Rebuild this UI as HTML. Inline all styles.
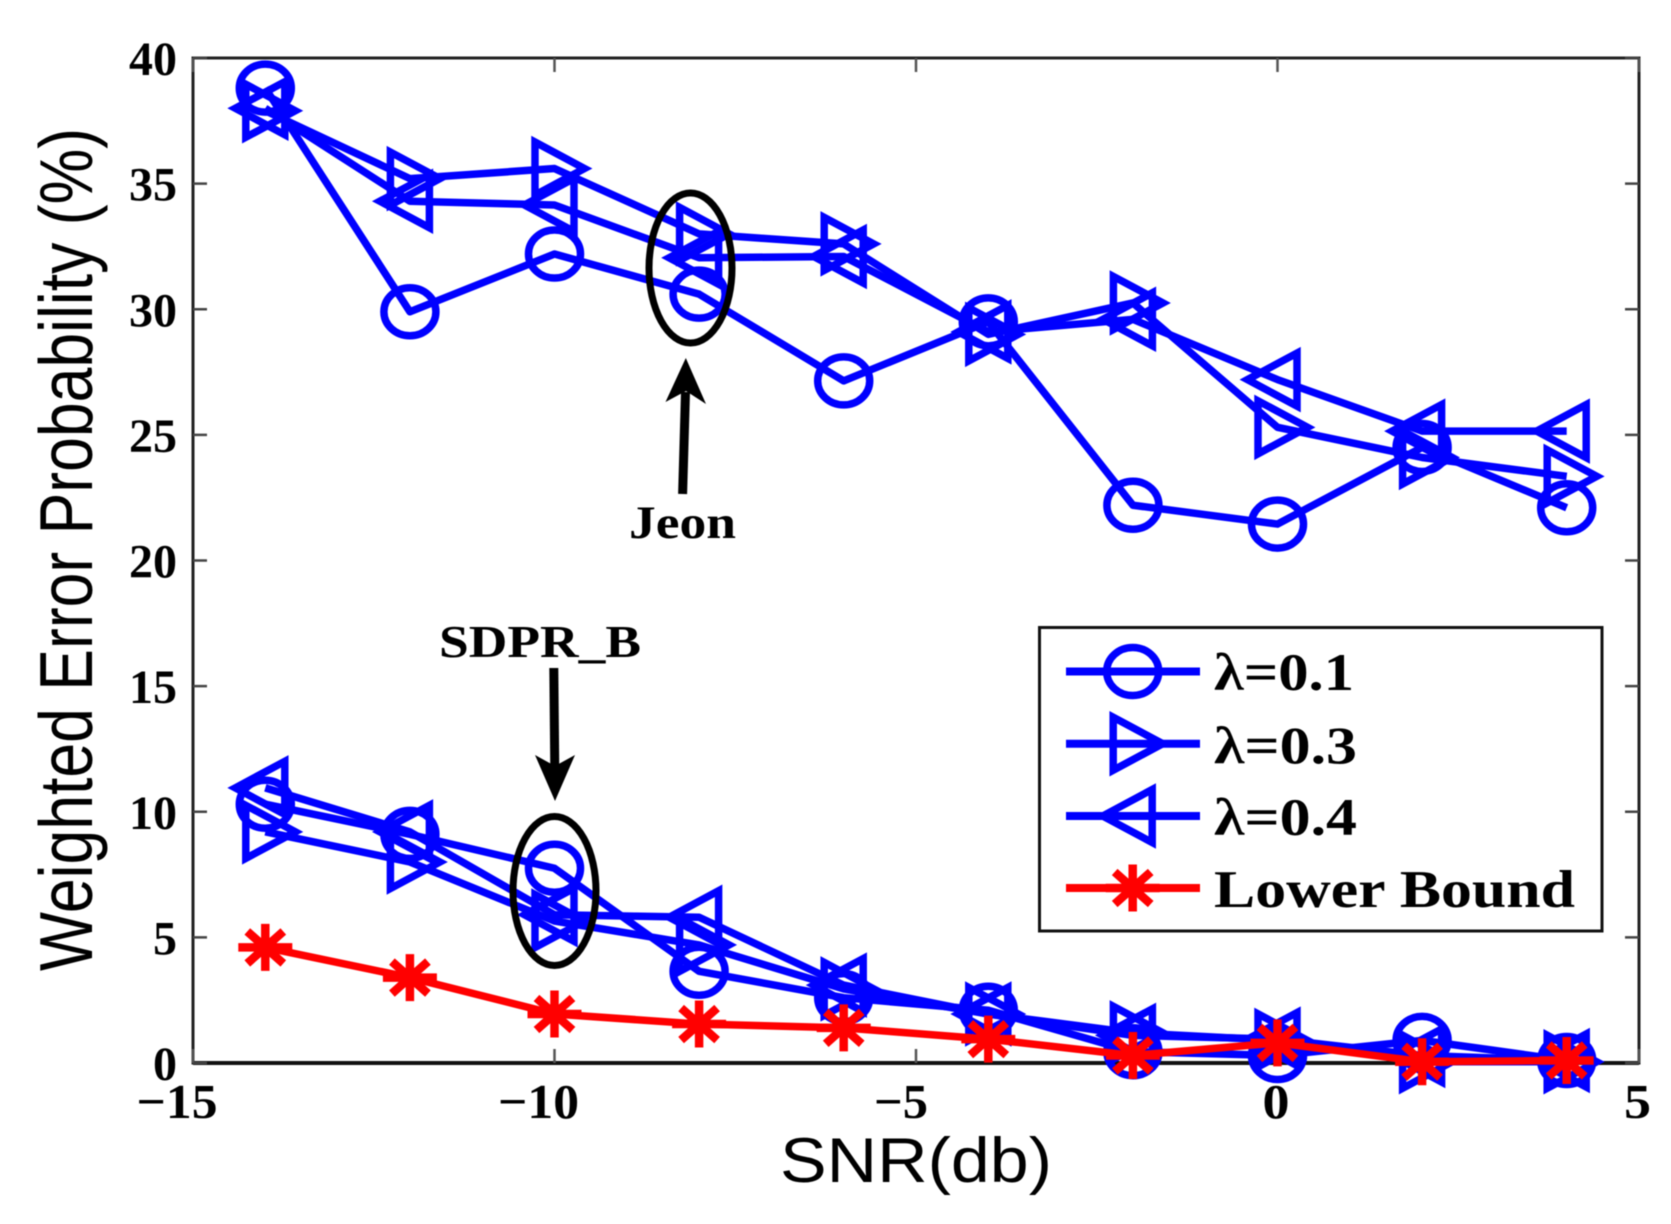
<!DOCTYPE html>
<html lang="en">
<head>
<meta charset="utf-8">
<title>Weighted Error Probability vs SNR</title>
<style>
html,body{margin:0;padding:0;background:#fff;}
svg{display:block;filter:blur(0.6px);}
text{fill:#000;}
.serif{font-family:"Liberation Serif",serif;font-weight:bold;}
.sans{font-family:"Liberation Sans",sans-serif;}
</style>
</head>
<body>
<svg id="chart" xmlns="http://www.w3.org/2000/svg" width="1671" height="1224" viewBox="0 0 1671 1224">
  <rect x="0" y="0" width="1671" height="1224" fill="#fff"/>
  <g id="axes-layer"></g>
  <g id="series-layer"></g>

  <g>
    <ellipse cx="690.5" cy="268" rx="41.5" ry="75" fill="none" stroke="#000" stroke-width="7"/>
    <line x1="682.6" y1="494" x2="685.5" y2="392" stroke="#000" stroke-width="9"/>
    <polygon points="685.8,358 706,404 686,391 665.5,402" fill="#000"/>
    <text class="serif" x="629" y="538" font-size="47" textLength="107" lengthAdjust="spacingAndGlyphs">Jeon</text>
  </g>
  <g>
    <ellipse cx="554.5" cy="891" rx="41.5" ry="74.5" fill="none" stroke="#000" stroke-width="7"/>
    <line x1="553.8" y1="668" x2="554.8" y2="770" stroke="#000" stroke-width="9"/>
    <polygon points="555,801 575,755 555,766 535,755" fill="#000"/>
    <text class="serif" x="439" y="657" font-size="46" textLength="202" lengthAdjust="spacingAndGlyphs">SDPR_B</text>
  </g>

  <text class="sans" x="780" y="1182" font-size="63" textLength="272" lengthAdjust="spacingAndGlyphs">SNR(db)</text>
  <text class="sans" transform="translate(92,971) rotate(-90) scale(1,1.2)" x="0" y="0" font-size="63" textLength="843" lengthAdjust="spacingAndGlyphs">Weighted Error Probability (%)</text>

  <g id="legend-layer">
    <rect x="1039.5" y="627.5" width="562.5" height="303.5" fill="#fff" stroke="#111" stroke-width="3"/>
  </g>
</svg>

<script>
// ---- Data ----
const snrValues = [-14, -12, -10, -8, -6, -4, -2, 0, 2, 4];
const jeonLambda01 = [38.8, 29.9, 32.2, 30.6, 27.15, 29.5, 22.2, 21.45, 24.5, 22.1];
const jeonLambda03 = [37.9, 35.2, 35.6, 33.0, 32.6, 29.0, 30.25, 25.3, 24.1, 23.35];
const jeonLambda04 = [38.0, 34.3, 34.15, 32.05, 32.1, 29.1, 29.6, 27.2, 25.15, 25.15];
const sdprLambda01 = [10.3, 9.1, 7.75, 3.65, 2.6, 2.1, 0.45, 0.3, 0.9, 0.1];
const sdprLambda03 = [9.2, 8.0, 5.65, 4.7, 2.95, 1.95, 1.2, 0.9, 0.05, 0.05];
const sdprLambda04 = [10.95, 9.2, 5.9, 5.8, 3.1, 1.95, 1.1, 0.95, 0.3, 0.1];
const lowerBound = [4.6, 3.4, 1.95, 1.55, 1.4, 0.95, 0.3, 0.8, 0.05, 0.1];
const xTicks = [-15, -10, -5, 0, 5];
const yTicks = [0, 5, 10, 15, 20, 25, 30, 35, 40];
const xTickLabels = ['\u221215', '\u221210', '\u22125', '0', '5'];
const yTickLabels = ['0', '5', '10', '15', '20', '25', '30', '35', '40'];
const legendLabels = ['\u03bb=0.1', '\u03bb=0.3', '\u03bb=0.4', 'Lower Bound'];

// ---- Axis functions ----
const plotLeft = 193, plotRight = 1639, plotTop = 58, plotBottom = 1063;
function xScale(v) { return plotLeft + (v - (-15)) / 20 * (plotRight - plotLeft); }
function yScale(v) { return plotBottom - v / 40 * (plotBottom - plotTop); }

const SVGNS = 'http://www.w3.org/2000/svg';
function make(tag, attrs, parent) {
  const n = document.createElementNS(SVGNS, tag);
  for (const k in attrs) n.setAttribute(k, attrs[k]);
  parent.appendChild(n);
  return n;
}

// ---- Axes ----
const axesLayer = document.getElementById('axes-layer');
const frame = make('rect', {x: plotLeft, y: plotTop, width: plotRight - plotLeft, height: plotBottom - plotTop, fill: 'none', stroke: '#222', 'stroke-width': 3}, axesLayer);


const baseline = make('line', {x1: plotLeft, x2: plotRight, y1: plotBottom, y2: plotBottom, stroke: '#111', 'stroke-width': 4}, axesLayer);



xTicks.forEach(function (t, i) {
  const x = xScale(t);
  const bottomTick = make('line', {x1: x, x2: x, y1: plotBottom, y2: plotBottom - 14, stroke: '#555', 'stroke-width': 2.5}, axesLayer);
  
  
  const topTick = make('line', {x1: x, x2: x, y1: plotTop, y2: plotTop + 14, stroke: '#555', 'stroke-width': 2.5}, axesLayer);
  
  
  const text = xTickLabels[i];
  const width = text.length * 27;
  const endX = x + (Math.abs(t) >= 10 ? 24.5 : 12);
  const label = make('text', {x: endX - width, y: 1118, 'font-size': 49, class: 'serif', textLength: width, lengthAdjust: 'spacingAndGlyphs'}, axesLayer);
  label.textContent = text;
  
  
});

yTicks.forEach(function (t, i) {
  const y = yScale(t);
  const leftTick = make('line', {x1: plotLeft, x2: plotLeft + 14, y1: y, y2: y, stroke: '#444', 'stroke-width': 2.5}, axesLayer);
  
  
  const rightTick = make('line', {x1: plotRight, x2: plotRight - 14, y1: y, y2: y, stroke: '#444', 'stroke-width': 2.5}, axesLayer);
  
  
  const label = make('text', {x: 177, y: y + 17, 'font-size': 48, 'text-anchor': 'end', class: 'serif'}, axesLayer);
  label.textContent = yTickLabels[i];
  
  
});

// ---- Markers ----
function drawMarker(kind, x, y, color, parent) {
  const common = {fill: 'none', stroke: color, 'stroke-width': 7.5, 'stroke-linejoin': 'miter', 'stroke-miterlimit': 10};
  let shape;
  if (kind === 'circle') {
    shape = make('ellipse', Object.assign({cx: x, cy: y, rx: 26, ry: 24}, common), parent);
  } else if (kind === 'right') {
    const pts = [(x + 30) + ',' + y, (x - 19.5) + ',' + (y - 26.5), (x - 19.5) + ',' + (y + 26.5)].join(' ');
    shape = make('polygon', Object.assign({points: pts}, common), parent);
  } else if (kind === 'left') {
    const pts = [(x - 30) + ',' + y, (x + 19.5) + ',' + (y - 26.5), (x + 19.5) + ',' + (y + 26.5)].join(' ');
    shape = make('polygon', Object.assign({points: pts}, common), parent);
  } else {
    const d = 'M' + (x - 27) + ' ' + y + 'H' + (x + 27) +
              'M' + x + ' ' + (y - 23.5) + 'V' + (y + 23.5) +
              'M' + (x - 18) + ' ' + (y - 16) + 'L' + (x + 18) + ' ' + (y + 16) +
              'M' + (x - 18) + ' ' + (y + 16) + 'L' + (x + 18) + ' ' + (y - 16);
    shape = make('path', {d: d, fill: 'none', stroke: color, 'stroke-width': 8.5}, parent);
  }
  return shape;
}

// ---- Series ----
const seriesLayer = document.getElementById('series-layer');
function drawSeries(values, kind, color, name) {
  const g = make('g', {}, seriesLayer);
  
  
  const pts = values.map(function (v, i) { return xScale(snrValues[i]) + ',' + yScale(v); }).join(' ');
  const line = make('polyline', {points: pts, fill: 'none', stroke: color, 'stroke-width': 7.5, 'stroke-linejoin': 'round'}, g);
  
  
  values.forEach(function (v, i) {
    const m = drawMarker(kind, xScale(snrValues[i]), yScale(v), color, g);
    
    
  });
}
const BLUE = '#0000ff', RED = '#ff0000';
drawSeries(jeonLambda01, 'circle', BLUE, 'jeon-lambda-0-1');
drawSeries(jeonLambda03, 'right', BLUE, 'jeon-lambda-0-3');
drawSeries(jeonLambda04, 'left', BLUE, 'jeon-lambda-0-4');
drawSeries(sdprLambda01, 'circle', BLUE, 'sdpr-lambda-0-1');
drawSeries(sdprLambda03, 'right', BLUE, 'sdpr-lambda-0-3');
drawSeries(sdprLambda04, 'left', BLUE, 'sdpr-lambda-0-4');
drawSeries(lowerBound, 'star', RED, 'lower-bound');

// ---- Legend ----
const legendLayer = document.getElementById('legend-layer');
const legendKinds = ['circle', 'right', 'left', 'star'];
const legendColors = [BLUE, BLUE, BLUE, RED];
const legendLineY = [671.5, 743.7, 816, 888];
const legendBaseY = [690, 763.5, 835, 907];
const legendWidths = [140, 143, 143, 361];
legendLabels.forEach(function (lab, i) {
  const g = make('g', {}, legendLayer);
  
  
  const l = make('line', {x1: 1066, x2: 1200, y1: legendLineY[i], y2: legendLineY[i], stroke: legendColors[i], 'stroke-width': 8}, g);
  
  
  const m = drawMarker(legendKinds[i], 1132.7, legendLineY[i], legendColors[i], g);
  
  
  const t = make('text', {x: 1214, y: legendBaseY[i], 'font-size': 53, class: 'serif', textLength: legendWidths[i], lengthAdjust: 'spacingAndGlyphs'}, g);
  t.textContent = lab;
  
  
});
</script>
</body>
</html>
